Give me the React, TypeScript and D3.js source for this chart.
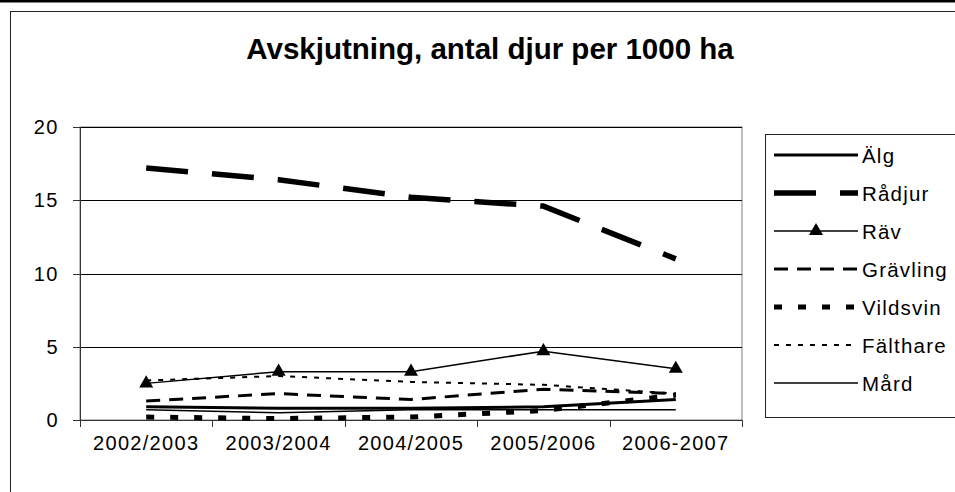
import React from "react";
import * as d3 from "d3";

const categories = ["2002/2003", "2003/2004", "2004/2005", "2005/2006", "2006-2007"];
const seriesNames = ["Älg", "Rådjur", "Räv", "Grävling", "Vildsvin", "Fälthare", "Mård"];
const alg = [0.9, 0.8, 0.8, 0.9, 1.4];
const radjur = [17.2, 16.4, 15.2, 14.6, 11.0];
const rav = [2.5, 3.3, 3.3, 4.7, 3.5];
const gravling = [1.3, 1.8, 1.4, 2.1, 1.8];
const vildsvin = [0.2, 0.1, 0.2, 0.65, 1.7];
const falthare = [2.7, 3.0, 2.6, 2.4, 1.8];
const mard = [0.7, 0.5, 0.7, 0.7, 0.7];
const yTicks = [0, 5, 10, 15, 20];
const title = "Avskjutning, antal djur per 1000 ha";

const seriesValues = [alg, radjur, rav, gravling, vildsvin, falthare, mard];

const styles = [
  { width: 3, dash: "none", marker: false },
  { width: 5.5, dash: "42,24", marker: false },
  { width: 1.5, dash: "none", marker: true },
  { width: 3, dash: "14,9", marker: false },
  { width: 5, dash: "8,16", marker: false },
  { width: 2, dash: "5,7", marker: false },
  { width: 1.5, dash: "none", marker: false },
];

export default function App() {
  const W = 955, H = 492;
  const left = 80, right = 742, top = 127, bottom = 420;
  const x = d3.scaleBand<string>().domain(categories).range([left, right]);
  const y = d3.scaleLinear().domain([0, 20]).range([bottom, top]);
  const cx = (c: string) => (x(c) as number) + x.bandwidth() / 2;
  const line = d3
    .line<number>()
    .x((_, i) => cx(categories[i]))
    .y((v) => y(v));
  const tri = d3.symbol().type(d3.symbolTriangle).size(85)();
  const font = "'Liberation Sans', Arial, sans-serif";
  const boundaries = [...categories.map((c) => x(c) as number), right];

  const legX = 765, legY = 134, legW = 195, legH = 283;
  const rowY = (i: number) => 155 + i * 38;

  return (
    <div style={{ position: "fixed", left: 0, top: 0 }}>
      <svg width={W} height={H} style={{ display: "block", background: "#fff" }}>
        <rect x={0} y={0} width={W} height={2.5} fill="#000" />
        <rect x={10.5} y={11.5} width={W + 10} height={H + 10} fill="#fff" stroke="#222" strokeWidth={1} />
        <text x={490} y={59} textAnchor="middle" fontFamily={font} fontWeight="bold" fontSize={29.5} fill="#000">
          {title}
        </text>
        {/* plot area */}
        <rect x={left} y={top} width={right - left} height={bottom - top} fill="#fff" stroke="#808080" strokeWidth={1} />
        {yTicks.filter((t) => t > 0).map((t) => (
          <line key={t} x1={left} x2={right} y1={Math.round(y(t)) + 0.5} y2={Math.round(y(t)) + 0.5} stroke="#000" strokeWidth={1} />
        ))}
        {/* axes */}
        <line x1={left + 0.5} x2={left + 0.5} y1={top} y2={bottom} stroke="#333" />
        <line x1={left} x2={right} y1={bottom + 0.5} y2={bottom + 0.5} stroke="#333" />
        {yTicks.map((t) => (
          <g key={"yt" + t}>
            <line x1={left - 7} x2={left} y1={Math.round(y(t)) + 0.5} y2={Math.round(y(t)) + 0.5} stroke="#333" />
            <text x={left - 21} y={y(t) + 7} textAnchor="end" fontFamily={font} fontSize={20} letterSpacing={1.5} fill="#000">
              {t}
            </text>
          </g>
        ))}
        {boundaries.map((b, i) => (
          <line key={"xt" + i} x1={Math.round(b) + 0.5} x2={Math.round(b) + 0.5} y1={bottom} y2={bottom + 7} stroke="#333" />
        ))}
        {categories.map((c) => (
          <text key={c} x={cx(c)} y={450} textAnchor="middle" fontFamily={font} fontSize={20} letterSpacing={1.3} fill="#000">
            {c}
          </text>
        ))}
        {/* series */}
        {seriesValues.map((vals, si) => (
          <g key={seriesNames[si]}>
            <path
              d={line(vals) as string}
              fill="none"
              stroke="#000"
              strokeWidth={styles[si].width}
              strokeDasharray={styles[si].dash}
              strokeLinejoin="round"
            />
            {styles[si].marker &&
              vals.map((v, i) => (
                <path key={i} d={tri as string} transform={`translate(${cx(categories[i])},${y(v)})`} fill="#000" />
              ))}
          </g>
        ))}
        {/* legend */}
        <rect x={legX + 0.5} y={legY + 0.5} width={legW} height={legH} fill="#fff" stroke="#222" />
        {seriesNames.map((n, i) => (
          <g key={"lg" + n}>
            <line
              x1={774}
              x2={858}
              y1={rowY(i)}
              y2={rowY(i)}
              stroke="#000"
              strokeWidth={styles[i].width}
              strokeDasharray={styles[i].dash}
            />
            {styles[i].marker && <path d={tri as string} transform={`translate(816,${rowY(i)})`} fill="#000" />}
            <text x={862} y={rowY(i) + 7.5} fontFamily={font} fontSize={20.5} letterSpacing={1.2} fill="#000">
              {n}
            </text>
          </g>
        ))}
      </svg>
    </div>
  );
}
